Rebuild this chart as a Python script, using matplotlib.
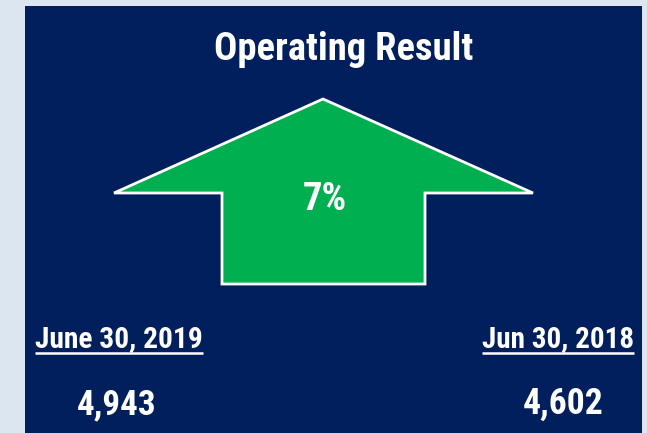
import matplotlib
matplotlib.use('Agg')
import matplotlib.pyplot as plt
from matplotlib.patches import Polygon, Rectangle

# ---------------- data ----------------
title = 'Operating Result'
periods = ['June 30, 2019', 'Jun 30, 2018']
values = [4943, 4602]
change_pct = round((values[0] / values[1] - 1) * 100)

# ---------------- style ----------------
W, H = 647, 433
bg_color = '#dce6f0'
panel_color = '#001f5c'
arrow_color = '#00b050'
font = ['Roboto Condensed', 'Lato', 'DejaVu Sans']
grow = 1.05  # original face is a little narrower than Roboto Condensed
cap_ratio = 0.71

fig = plt.figure(figsize=(W / 100, H / 100), dpi=100)
fig.patch.set_facecolor(bg_color)
ax = fig.add_axes([0, 0, 1, 1])
ax.set_xlim(0, W)
ax.set_ylim(H, 0)
ax.axis('off')


def fit_text(x, yc, s, width, ha='center', size=30):
    # white bold text spanning about `width` px, caps centred on yc
    t = ax.text(x, yc, s, ha=ha, va='baseline', color='white',
                fontsize=size, fontweight='bold', family=font)
    bb = t.get_window_extent(renderer=fig.canvas.get_renderer())
    size = size * width * grow / bb.width
    t.set_fontsize(size)
    t.set_y(yc + cap_ratio * size * 100 / 72 / 2)
    return t


# navy panel
ax.add_patch(Rectangle((25, 6), 617, 430, facecolor=panel_color, edgecolor='none'))

# up arrow
tip = (323, 99)
head_y, left, right = 193, 114, 533
shaft_l, shaft_r, bottom = 222, 425, 284
arrow = Polygon([tip, (right, head_y), (shaft_r, head_y), (shaft_r, bottom),
                 (shaft_l, bottom), (shaft_l, head_y), (left, head_y)],
                closed=True, facecolor=arrow_color, edgecolor='white',
                linewidth=2, joinstyle='miter')
ax.add_patch(arrow)

fit_text(343.5, 46.5, title, 247)
fit_text(325, 196, '{}%'.format(change_pct), 42)

# period labels (underlined) and values
date_pos = [(35, 'left', 160), (634, 'right', 145)]
value_pos = [(117, 76), (563.5, 77)]
date_texts = []
for (x, ha, w), label, val, (vx, vw) in zip(date_pos, periods, values, value_pos):
    date_texts.append(fit_text(x, 337, label, w, ha=ha))
    fit_text(vx, 401.5, '{:,}'.format(val), vw)

fig.canvas.draw()
inv = ax.transData.inverted()
for t in date_texts:
    bb = t.get_window_extent()
    (x0, _), (x1, _) = inv.transform([(bb.x0, 0), (bb.x1, 0)])
    ax.plot([x0, x1], [353, 353], color='white', linewidth=1.8,
            solid_capstyle='butt')

fig.savefig('out.png', dpi=100, facecolor=fig.get_facecolor())
